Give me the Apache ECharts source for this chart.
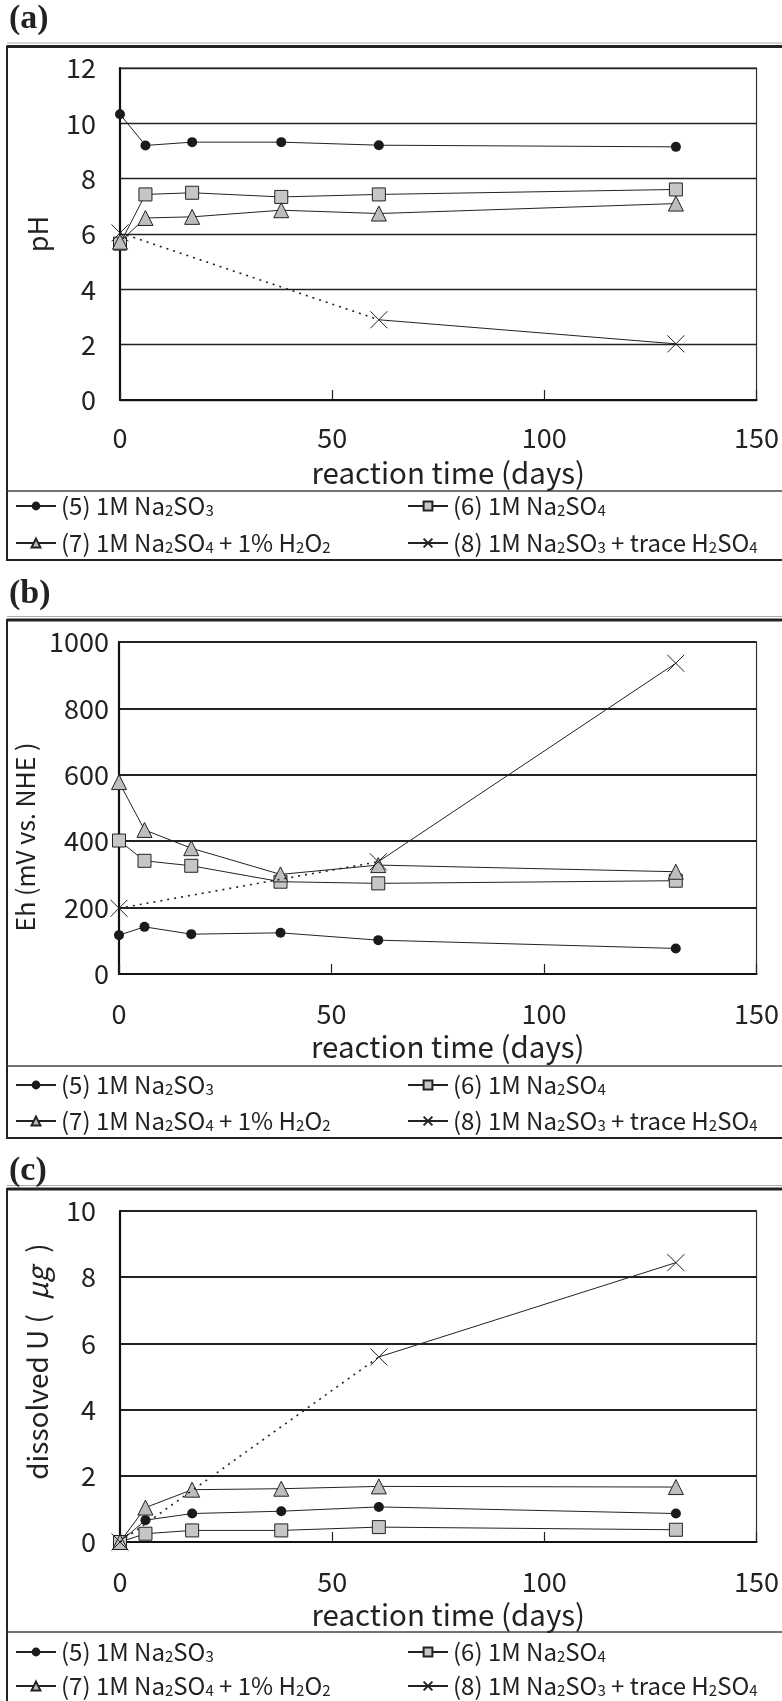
<!DOCTYPE html>
<html>
<head>
<meta charset="utf-8">
<script src="https://cdn.jsdelivr.net/npm/echarts@6/dist/echarts.min.js"></script>
<style>
html, body { margin: 0; padding: 0; background: #fff; }
#main { width: 782px; height: 1701px; }
</style>
</head>
<body>
<div id="main"></div>
<script>
// sampling days
var days = [0, 6, 17, 38, 61, 131];
var days8 = [0, 61, 131];

// (a) pH
var ph5 = [10.33, 9.2, 9.32, 9.32, 9.21, 9.15];
var ph6 = [5.65, 7.43, 7.49, 7.34, 7.43, 7.61];
var ph7 = [5.72, 6.58, 6.62, 6.86, 6.74, 7.1];
var ph8 = [6.04, 2.9, 2.03];

// (b) Eh (mV vs. NHE)
var eh5 = [117, 142, 120, 124, 102, 77];
var eh6 = [402, 341, 326, 278, 273, 281];
var eh7 = [578, 434, 379, 300, 328, 308];
var eh8 = [198, 338, 936];

// (c) dissolved U (ug)
var u5 = [0, 0.66, 0.86, 0.93, 1.06, 0.86];
var u6 = [0, 0.25, 0.35, 0.35, 0.45, 0.37];
var u7 = [0, 1.04, 1.58, 1.61, 1.68, 1.66];
var u8 = [0, 5.59, 8.44];

var panelNames = ['(a)', '(b)', '(c)'];
var yNames = ['pH', 'Eh (mV vs. NHE )', 'dissolved U (\u2002{i|\u03bcg}\u2002)'];
var yMax = [12, 1000, 10];
var yStep = [2, 200, 2];

var sNames = ['(5) 1M Na2SO3', '(6) 1M Na2SO4', '(7) 1M Na2SO4 + 1% H2O2', '(8) 1M Na2SO3 + trace H2SO4'];
var sRich = {
    '(5) 1M Na2SO3': '(5) 1M Na{s|2}SO{s|3}',
    '(6) 1M Na2SO4': '(6) 1M Na{s|2}SO{s|4}',
    '(7) 1M Na2SO4 + 1% H2O2': '(7) 1M Na{s|2}SO{s|4} + 1% H{s|2}O{s|2}',
    '(8) 1M Na2SO3 + trace H2SO4': '(8) 1M Na{s|2}SO{s|3} + trace H{s|2}SO{s|4}'
};

var FONT = '"Noto Sans CJK JP", "Noto Sans", sans-serif';
var crossPath = 'path://M0,0L10,10M10,0L0,10';

var gridTop = [68, 642, 1211];
var gridH = [332, 332, 331];
var gridLeft = [120, 119, 120];
var labelMargin = [24, 10, 24];
var splitW = [1.3, 2, 1.8];
var legendTop = [494, 1073, 1640];
var legendGap = [13, 12, 10];
var yNameSize = [27, 25, 28];
var yNamePad = [0, [0, 58, 0, 0], [0, 0, 0, 30]];

function pairs(xs, ys) {
    return xs.map(function (d, i) { return [d, ys[i]]; });
}

var markers = [
    { symbol: 'circle', size: 10, fill: '#1a1a1a', bw: 0 },
    { symbol: 'rect', size: 13, fill: '#c6c6c6', bw: 1 },
    { symbol: 'triangle', size: 15, fill: '#bdbdbd', bw: 1 },
    { symbol: crossPath, size: 17, fill: 'none', bw: 1 }
];

function lineSeries(gi, k, data) {
    var m = markers[k];
    return {
        type: 'line',
        name: sNames[k],
        xAxisIndex: gi,
        yAxisIndex: gi,
        data: data,
        symbol: m.symbol,
        symbolSize: m.size,
        showAllSymbol: true,
        lineStyle: { color: '#222', width: 1 },
        itemStyle: { color: m.fill, borderColor: '#222', borderWidth: m.bw },
        emphasis: { disabled: true },
        z: 3 + k
    };
}

var panels = [
    [ph5, ph6, ph7, ph8],
    [eh5, eh6, eh7, eh8],
    [u5, u6, u7, u8]
];

var grids = [], xAxes = [], yAxes = [], series = [], legends = [], graphics = [];

panels.forEach(function (p, gi) {
    grids.push({
        left: gridLeft[gi], right: 22, top: gridTop[gi], height: gridH[gi],
        show: true, borderColor: '#333', borderWidth: 1.2
    });
    xAxes.push({
        type: 'value', gridIndex: gi, min: 0, max: 150, interval: 50,
        name: 'reaction time (days)', nameLocation: 'middle', nameGap: 58,
        nameTextStyle: { fontFamily: FONT, fontSize: 29.5, color: '#222', padding: [0, 0, 0, 20] },
        axisLine: { lineStyle: { color: '#111', width: 2.2 } },
        axisTick: { inside: true, length: 10, lineStyle: { color: '#222', width: 1.2 } },
        axisLabel: { fontFamily: FONT, fontSize: 27, color: '#222', margin: gi === 0 ? 24 : 26 },
        splitLine: { show: false }
    });
    yAxes.push({
        type: 'value', gridIndex: gi, min: 0, max: yMax[gi], interval: yStep[gi],
        name: yNames[gi], nameLocation: 'middle', nameGap: 69,
        nameTextStyle: {
            fontFamily: FONT, fontSize: yNameSize[gi], color: '#222',
            padding: yNamePad[gi],
            rich: { i: { fontFamily: FONT, fontSize: yNameSize[gi], fontStyle: 'italic', color: '#222' } }
        },
        axisLine: { show: true, lineStyle: { color: '#111', width: 2.2 } },
        axisTick: { show: false },
        axisLabel: {
            fontFamily: FONT, fontSize: 27, color: '#222', margin: labelMargin[gi],
            formatter: function (v) { return String(v); }
        },
        splitLine: { show: true, lineStyle: { color: '#222', width: splitW[gi] } }
    });

    series.push(lineSeries(gi, 0, pairs(days, p[0])));
    series.push(lineSeries(gi, 1, pairs(days, p[1])));
    series.push(lineSeries(gi, 2, pairs(days, p[2])));
    // (8): dotted up to the 2nd sample, solid after it
    var all8 = pairs(days8, p[3]);
    var dotted = lineSeries(gi, 3, [all8[0], { value: all8[1], symbol: 'none' }]);
    dotted.name = 'dotted8';
    dotted.lineStyle = { color: '#222', width: 1.6, type: [2, 5] };
    series.push(dotted);
    series.push(lineSeries(gi, 3, all8.slice(1)));

    var legendBase = {
        orient: 'vertical', top: legendTop[gi], itemWidth: 40, itemHeight: 11,
        itemGap: legendGap[gi], selectedMode: false, padding: 0,
        formatter: function (n) { return sRich[n]; },
        textStyle: {
            fontFamily: FONT, fontSize: 24, color: '#222', lineHeight: 24,
            rich: { s: { fontFamily: FONT, fontSize: 15, verticalAlign: 'bottom', lineHeight: 21 } }
        }
    };
    legends.push(Object.assign({}, legendBase, { left: 15, data: [sNames[0], sNames[2]] }));
    legends.push(Object.assign({}, legendBase, { left: 407, data: [sNames[1], sNames[3]] }));
});

// panel frames and labels
var boxTop = [46.5, 620, 1189];
var boxBottom = [560, 1138, 1760];
var sepY = [491, 1066, 1632];
var labelTop = [2, 577, 1154];
boxTop.forEach(function (t, i) {
    graphics.push({ type: 'line', shape: { x1: 7, y1: t - 3.5, x2: 782, y2: t - 3.5 }, style: { stroke: '#aaa', lineWidth: 1 } });
    graphics.push({ type: 'rect', shape: { x: 7, y: t, width: 800, height: boxBottom[i] - t }, style: { fill: 'none', stroke: '#222', lineWidth: 2 } });
    graphics.push({ type: 'line', shape: { x1: 7, y1: t, x2: 782, y2: t }, style: { stroke: '#222', lineWidth: 3 } });
    graphics.push({ type: 'line', shape: { x1: 7, y1: sepY[i], x2: 782, y2: sepY[i] }, style: { stroke: '#444', lineWidth: 1.5 } });
    graphics.push({
        type: 'text', left: 9, top: labelTop[i],
        style: { text: panelNames[i], font: 'bold 34px "Liberation Serif", serif', fill: '#222' }
    });
});

var chart = echarts.init(document.getElementById('main'));
chart.setOption({
    animation: false,
    backgroundColor: '#fff',
    grid: grids,
    xAxis: xAxes,
    yAxis: yAxes,
    legend: legends,
    series: series,
    graphic: graphics
});
</script>
</body>
</html>
